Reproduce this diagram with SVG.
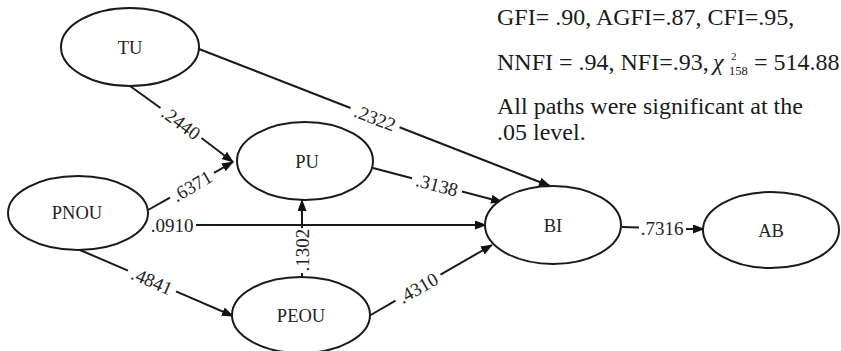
<svg xmlns="http://www.w3.org/2000/svg" width="841" height="351" viewBox="0 0 841 351">
  <style>
    .node ellipse { fill: #ffffff; stroke: #1a1a1a; stroke-width: 2; }
    .node text { font-size: 18.5px; fill: #222; text-anchor: middle; dominant-baseline: central; }
    .edge { stroke: #1a1a1a; stroke-width: 2; fill: none; }
    .coef { font-size: 19px; fill: #222; text-anchor: middle; dominant-baseline: central; }
    .serif { font-family: 'Liberation Serif', 'Times New Roman', Times, serif; }
  </style>
  <defs>
    <marker id="arrow" markerUnits="userSpaceOnUse" markerWidth="12" markerHeight="10" refX="11" refY="4.5" orient="auto">
      <path d="M0,0 L12,4.5 L0,9 z" fill="#111"/>
    </marker>
  </defs>
  <rect width="841" height="351" fill="#ffffff"/>

  <!-- connectors, split where the path coefficient sits on the line -->
  <g id="connectors">
    <path class="edge" d="M130,86 L160.5,108"/>
    <path class="edge" d="M201.5,138 L233,162" marker-end="url(#arrow)"/>
    <path class="edge" d="M199,49 L350.5,108"/>
    <path class="edge" d="M399.5,127.3 L550,186" marker-end="url(#arrow)"/>
    <path class="edge" d="M148,210 L170,197.6"/>
    <path class="edge" d="M214,172.8 L233,162" marker-end="url(#arrow)"/>
    <path class="edge" d="M196,225 L486,225" marker-end="url(#arrow)"/>
    <path class="edge" d="M302,277 L302,273"/>
    <path class="edge" d="M302,228 L302,200" marker-end="url(#arrow)"/>
    <path class="edge" d="M80,250 L128,270.7"/>
    <path class="edge" d="M176,291.3 L233,316" marker-end="url(#arrow)"/>
    <path class="edge" d="M373,168 L412,178.3"/>
    <path class="edge" d="M462,191.5 L502,202" marker-end="url(#arrow)"/>
    <path class="edge" d="M369,316 L395.5,300.7"/>
    <path class="edge" d="M440.5,274.7 L492,245" marker-end="url(#arrow)"/>
    <path class="edge" d="M622,227 L639,227.5"/>
    <path class="edge" d="M686,229 L704,229" marker-end="url(#arrow)"/>

    <g class="serif coef">
      <text transform="translate(181,123) rotate(36.7)">.2440</text>
      <text transform="translate(375,118) rotate(21.3)">.2322</text>
      <text transform="translate(192,186) rotate(-30.3)">.6371</text>
      <text x="172" y="225">.0910</text>
      <text transform="translate(302,250) rotate(-90)">.1302</text>
      <text transform="translate(152,281) rotate(23.5)">.4841</text>
      <text transform="translate(437,185) rotate(14.8)">.3138</text>
      <text transform="translate(418,288) rotate(-29.6)">.4310</text>
      <text x="662" y="228">.7316</text>
    </g>
  </g>

  <!-- latent constructs -->
  <g class="serif">
    <g id="TU" class="node">
      <ellipse cx="130" cy="47" rx="69" ry="39"/>
      <text x="130" y="48">TU</text>
    </g>
    <g id="PU" class="node">
      <ellipse cx="305" cy="161" rx="68" ry="39"/>
      <text x="307" y="162">PU</text>
    </g>
    <g id="PNOU" class="node">
      <ellipse cx="78" cy="213" rx="70" ry="37"/>
      <text x="77" y="213">PNOU</text>
    </g>
    <g id="PEOU" class="node">
      <ellipse cx="301" cy="315" rx="69" ry="38"/>
      <text x="301" y="316">PEOU</text>
    </g>
    <g id="BI" class="node">
      <ellipse cx="553" cy="225" rx="68" ry="39"/>
      <text x="553" y="226">BI</text>
    </g>
    <g id="AB" class="node">
      <ellipse cx="771" cy="230" rx="68" ry="38"/>
      <text x="771" y="231">AB</text>
    </g>
  </g>

  <!-- fit statistics -->
  <g id="fit-stats" class="serif" font-size="24" fill="#1a1a1a">
    <text x="497" y="25">GFI= .90, AGFI=.87, CFI=.95,</text>
    <text x="497" y="70">NNFI = .94, NFI=.93,</text>
    <text x="713" y="70" font-style="italic">χ</text>
    <text x="731" y="60" font-size="11">2</text>
    <text x="729" y="75" font-size="12.5">158</text>
    <text x="754" y="70">= 514.88</text>
    <text x="497" y="114">All paths were significant at the</text>
    <text x="497" y="140">.05 level.</text>
  </g>
</svg>
